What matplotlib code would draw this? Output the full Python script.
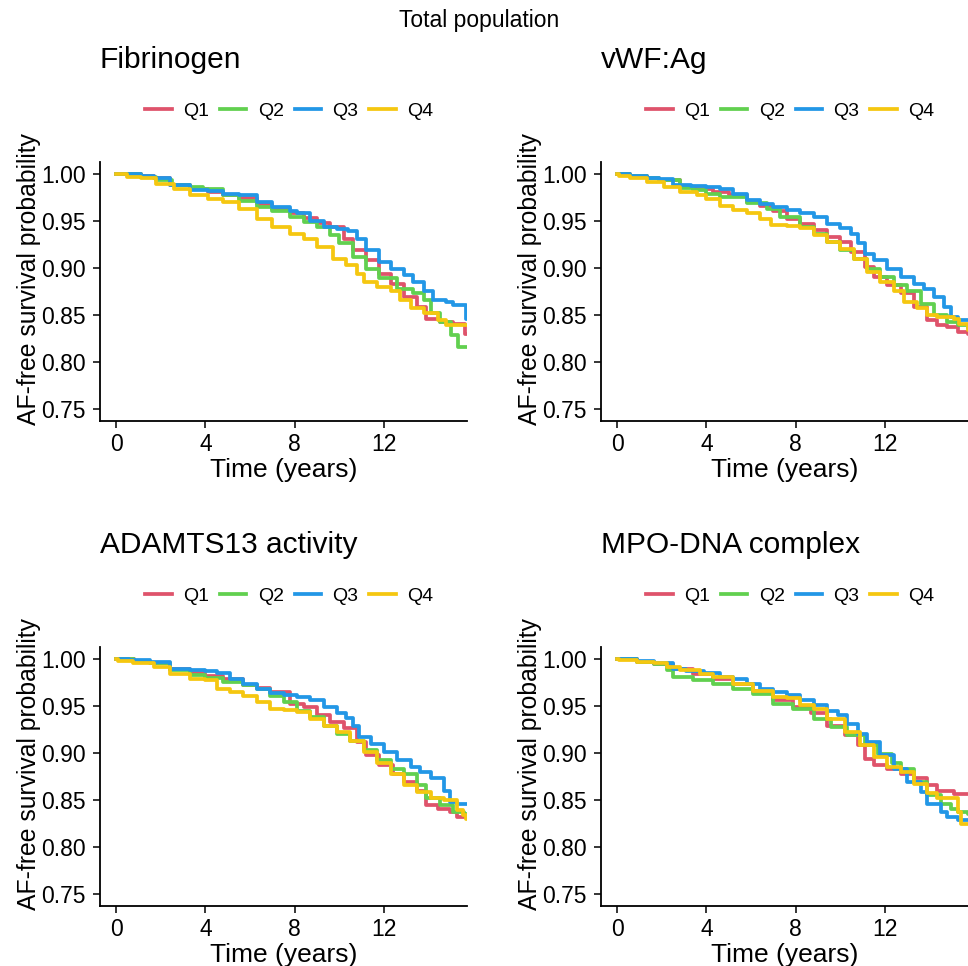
import matplotlib
matplotlib.use("Agg")
import matplotlib.pyplot as plt
import numpy as np

plt.rcParams["font.family"] = ["Liberation Sans", "DejaVu Sans"]

GROUPS = ["Q1", "Q2", "Q3", "Q4"]
COLORS = ["#DF536B", "#61D04F", "#2297E6", "#F5C710"]
PANEL_TITLES = ["Fibrinogen", "vWF:Ag", "ADAMTS13 activity", "MPO-DNA complex"]
X_TICKS = [0, 4, 8, 12]
Y_TICKS = [0.75, 0.80, 0.85, 0.90, 0.95, 1.00]

# Fibrinogen
fib_q1_t = [0, 1.1, 1.7, 2.4, 3.3, 4.1, 4.8, 5.5, 6.3, 7.0, 7.8, 8.4, 9.0, 9.6, 10.2, 10.6, 11.2, 11.8, 12.3, 12.9, 13.5, 13.9, 14.5, 15.1, 15.65]
fib_q1_s = [1.0, .998, .995, .988, .984, .981, .977, .974, .968, .963, .958, .953, .948, .944, .931, .919, .908, .894, .883, .869, .859, .846, .843, .841, .830]
fib_q2_t = [0, 1.1, 1.8, 2.5, 3.3, 3.9, 4.8, 5.5, 6.3, 7.0, 7.8, 8.4, 9.0, 9.6, 10.0, 10.6, 11.2, 11.8, 12.6, 13.3, 13.8, 14.1, 14.5, 15.0, 15.3]
fib_q2_s = [1.0, .997, .993, .988, .986, .984, .977, .971, .965, .960, .954, .949, .943, .935, .926, .912, .899, .889, .878, .873, .866, .852, .843, .829, .816]
fib_q3_t = [0, 1.1, 1.7, 2.4, 3.3, 4.1, 4.8, 5.5, 6.3, 7.0, 7.8, 8.1, 8.7, 9.3, 9.9, 10.4, 10.8, 11.2, 11.8, 12.3, 12.9, 13.3, 13.8, 14.2, 14.8, 15.1, 15.68]
fib_q3_s = [1.0, .998, .995, .988, .983, .982, .979, .977, .970, .965, .961, .958, .950, .944, .941, .939, .931, .919, .906, .899, .892, .885, .876, .866, .864, .861, .846]
fib_q4_t = [0, 0.5, 1.1, 1.8, 2.6, 3.3, 4.1, 4.8, 5.5, 6.3, 7.0, 7.8, 8.4, 9.0, 9.7, 10.3, 10.8, 11.1, 11.7, 12.3, 12.7, 13.2, 13.8, 14.4, 14.8]
fib_q4_s = [1.0, .997, .995, .989, .984, .977, .973, .970, .963, .952, .943, .936, .931, .922, .910, .903, .894, .885, .880, .876, .866, .857, .852, .845, .839]

# vWF:Ag
vwf_q1_t = [0, 0.6, 1.35, 1.9, 2.8, 3.5, 4.3, 5.0, 5.8, 6.4, 7.0, 7.6, 8.2, 8.8, 9.4, 10.0, 10.5, 11.1, 11.5, 12.1, 12.7, 13.3, 13.9, 14.35, 14.8, 15.25, 15.7]
vwf_q1_s = [1.0, .998, .996, .993, .986, .984, .981, .977, .970, .966, .961, .952, .947, .940, .933, .928, .917, .901, .890, .882, .873, .859, .845, .839, .837, .832, .830]
vwf_q2_t = [0, 0.6, 1.35, 1.9, 2.8, 3.4, 4.0, 4.6, 5.8, 6.7, 7.3, 8.2, 8.8, 9.4, 10.0, 10.6, 11.2, 11.8, 12.4, 13.0, 13.6, 14.2, 14.8, 15.25, 15.7]
vwf_q2_s = [1.0, .998, .996, .993, .985, .983, .979, .975, .969, .963, .954, .943, .936, .928, .919, .910, .899, .890, .882, .876, .862, .850, .843, .839, .836]
vwf_q3_t = [0, 0.6, 1.35, 1.9, 2.5, 3.3, 4.0, 4.6, 5.2, 5.8, 6.4, 7.0, 7.6, 8.2, 8.8, 9.4, 10.0, 10.5, 10.8, 11.1, 11.5, 12.1, 12.7, 13.3, 13.75, 14.2, 14.65, 14.95, 15.25]
vwf_q3_s = [1.0, .998, .996, .994, .988, .987, .986, .984, .979, .972, .968, .965, .962, .958, .954, .947, .942, .936, .926, .915, .908, .899, .890, .883, .878, .869, .859, .848, .845]
vwf_q4_t = [0, 0.1, 0.6, 1.35, 2.1, 2.8, 3.6, 4.0, 4.6, 5.2, 5.8, 6.4, 6.9, 7.6, 8.2, 8.8, 9.4, 10.0, 10.6, 11.2, 11.8, 12.4, 12.85, 13.45, 13.9, 14.35, 15.1, 15.3, 15.7]
vwf_q4_s = [1.0, .998, .995, .991, .986, .981, .977, .973, .966, .962, .958, .952, .946, .945, .942, .935, .928, .920, .910, .896, .885, .876, .864, .857, .850, .848, .846, .841, .834]

# ADAMTS13 activity
adm_q1_t = [0, 0.8, 1.5, 2.4, 3.3, 4.0, 4.8, 5.7, 6.3, 6.9, 7.8, 8.4, 9.0, 9.6, 10.2, 10.8, 11.2, 11.8, 12.4, 12.9, 13.5, 13.9, 14.4, 14.95, 15.25]
adm_q1_s = [1.0, .997, .995, .989, .985, .982, .979, .972, .969, .965, .952, .949, .940, .933, .926, .912, .898, .887, .878, .869, .860, .845, .841, .837, .832]
adm_q2_t = [0, 0.8, 1.5, 2.4, 3.3, 4.0, 4.8, 5.7, 6.3, 6.9, 7.5, 8.1, 8.7, 9.3, 9.9, 10.5, 11.1, 11.7, 12.3, 12.9, 13.5, 13.9, 14.5, 15.1, 15.6]
adm_q2_s = [1.0, .997, .995, .988, .983, .980, .975, .972, .968, .961, .954, .945, .938, .929, .920, .913, .903, .892, .883, .878, .866, .852, .845, .837, .835]
adm_q3_t = [0, 0.6, 1.5, 2.4, 3.3, 4.0, 4.5, 5.1, 5.7, 6.3, 6.9, 7.5, 8.1, 8.7, 9.3, 9.9, 10.3, 10.6, 10.9, 11.4, 12.0, 12.6, 13.2, 13.6, 14.1, 14.7, 14.95, 15.25]
adm_q3_s = [1.0, .999, .997, .989, .988, .987, .985, .979, .973, .968, .964, .962, .959, .956, .949, .942, .937, .929, .917, .910, .901, .892, .885, .880, .873, .860, .848, .846]
adm_q4_t = [0, 0.1, 0.78, 1.7, 2.4, 3.3, 4.0, 4.5, 5.1, 5.7, 6.3, 6.9, 7.5, 8.1, 8.7, 9.3, 9.9, 10.5, 11.1, 11.7, 12.3, 12.9, 13.5, 14.1, 14.7, 15.25, 15.55, 15.68]
adm_q4_s = [1.0, .998, .995, .991, .984, .979, .977, .968, .965, .960, .954, .947, .946, .943, .936, .929, .922, .913, .901, .889, .878, .866, .859, .852, .850, .839, .834, .830]

# MPO-DNA complex
mpo_q1_t = [0, 0.9, 1.65, 2.5, 3.4, 4.3, 5.2, 6.1, 7.0, 7.9, 8.7, 9.4, 10.2, 10.8, 11.1, 11.5, 12.1, 12.7, 13.3, 13.9, 14.35, 15.1]
mpo_q1_s = [1.0, .997, .994, .989, .984, .979, .973, .966, .956, .949, .942, .929, .919, .908, .894, .887, .883, .878, .873, .866, .860, .856]
mpo_q2_t = [0, 0.9, 1.65, 2.25, 2.5, 3.4, 4.3, 5.2, 6.1, 7.0, 7.9, 8.8, 9.6, 10.3, 11.1, 11.7, 12.3, 12.7, 13.3, 13.9, 14.5, 14.95, 15.25, 15.7]
mpo_q2_s = [1.0, .997, .994, .988, .981, .977, .973, .968, .963, .952, .947, .936, .928, .919, .908, .899, .889, .883, .869, .855, .846, .841, .837, .835]
mpo_q3_t = [0, 0.9, 1.65, 2.5, 3.1, 3.9, 4.6, 5.2, 5.8, 6.4, 7.0, 7.6, 8.2, 8.8, 9.4, 9.9, 10.3, 10.8, 11.2, 11.8, 12.4, 13.0, 13.6, 13.9, 14.5, 14.8, 15.25]
mpo_q3_s = [1.0, .998, .995, .989, .987, .985, .981, .978, .973, .968, .965, .962, .956, .951, .945, .940, .931, .920, .912, .898, .883, .869, .859, .846, .837, .832, .829]
mpo_q4_t = [0, 0.1, 0.9, 1.65, 2.25, 2.8, 3.7, 4.3, 5.2, 6.1, 7.0, 7.6, 8.2, 8.8, 9.4, 10.2, 10.9, 11.5, 12.1, 12.7, 13.3, 13.9, 14.35, 14.8, 15.25, 15.4]
mpo_q4_s = [1.0, .999, .997, .996, .991, .988, .984, .981, .973, .966, .959, .958, .951, .947, .936, .922, .908, .896, .885, .880, .867, .857, .852, .852, .837, .825]

panels = [
    [(fib_q1_t, fib_q1_s), (fib_q2_t, fib_q2_s), (fib_q3_t, fib_q3_s), (fib_q4_t, fib_q4_s)],
    [(vwf_q1_t, vwf_q1_s), (vwf_q2_t, vwf_q2_s), (vwf_q3_t, vwf_q3_s), (vwf_q4_t, vwf_q4_s)],
    [(adm_q1_t, adm_q1_s), (adm_q2_t, adm_q2_s), (adm_q3_t, adm_q3_s), (adm_q4_t, adm_q4_s)],
    [(mpo_q1_t, mpo_q1_s), (mpo_q2_t, mpo_q2_s), (mpo_q3_t, mpo_q3_s), (mpo_q4_t, mpo_q4_s)],
]

W, H = 968, 966
fig = plt.figure(figsize=(W / 100, H / 100), dpi=100)

# axes boxes in pixels: left, top, right, bottom
boxes = [(100, 162, 467, 421), (601, 162, 968, 421),
         (100, 647, 467, 906), (601, 647, 968, 906)]

for box, title, curves in zip(boxes, PANEL_TITLES, panels):
    l, t, r, b = box
    ax = fig.add_axes([l / W, 1 - b / H, (r - l) / W, (b - t) / H])
    for (tt, ss), grp, col in zip(curves, GROUPS, COLORS):
        x = np.append(tt, 16.5)
        y = np.append(ss, ss[-1])
        ax.plot(x, y, drawstyle="steps-post", color=col, lw=2.7, label=grp)
    ax.set_xlim(-0.72, 15.72)
    ax.set_ylim(0.7375, 1.0125)
    ax.set_xticks(X_TICKS)
    ax.set_yticks(Y_TICKS)
    ax.set_yticklabels([f"{v:.2f}" for v in Y_TICKS])
    for side in ("top", "right"):
        ax.spines[side].set_visible(False)
    for side in ("left", "bottom"):
        ax.spines[side].set_linewidth(1.3)
    ax.tick_params(length=5, width=1.1, labelsize=16.5, colors="black")
    ax.tick_params(axis="x", pad=3.5)
    ax.tick_params(axis="y", pad=5.5)
    ax.set_xlabel("Time (years)", fontsize=19, labelpad=1.5)
    ax.set_ylabel("AF-free survival probability", fontsize=17.8)
    ax.yaxis.set_label_coords(-0.16, 0.548)
    ax.text(0, 353 / 259, title, transform=ax.transAxes, fontsize=21.5,
            ha="left", va="baseline")
    ax.legend(loc="center", bbox_to_anchor=(0.516, 1.197), ncol=4, frameon=False,
              fontsize=14, handlelength=1.35, handletextpad=0.6,
              columnspacing=0.55, borderaxespad=0)

fig.text(479 / W, 1 - 27.3 / H, "Total population", ha="center", va="baseline", fontsize=16.5)

fig.savefig("out.png", dpi=100)
